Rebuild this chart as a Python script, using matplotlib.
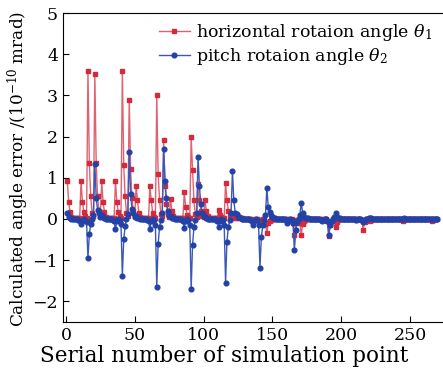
import matplotlib
matplotlib.use("Agg")
from matplotlib import pyplot as plt
import numpy as np

plt.rcParams['font.family'] = ['DejaVu Serif']
plt.rcParams['mathtext.fontset'] = 'dejavuserif'

# horizontal rotation angle theta1, 25 points per row (last row 20)
red_vals = [
    0.93, 0.40, 0.17, 0.05, 0.02, 0.02, 0.01, 0.01, 0.01, 0.02, 0.93, 0.40, 0.17, 0.06, 0.03, 3.60, 1.35, 0.55, 0.15, 0.08, 3.52, 1.35, 0.55, 0.18, 0.08,
    0.92, 0.40, 0.17, 0.05, 0.02, 0.02, 0.01, 0.01, 0.01, 0.02, 0.93, 0.40, 0.17, 0.06, 0.03, 3.60, 1.30, 0.55, 0.15, 0.08, 2.90, 1.20, 0.50, 0.18, 0.08,
    0.79, 0.45, 0.15, 0.05, 0.02, 0.02, 0.01, 0.01, 0.01, 0.02, 0.79, 0.45, 0.15, 0.05, 0.03, 3.00, 1.10, 0.47, 0.12, 0.06, 1.92, 0.80, 0.35, 0.12, 0.05,
    0.49, 0.20, 0.08, 0.03, 0.02, 0.01, 0.01, 0.01, 0.01, 0.02, 0.65, 0.30, 0.10, 0.04, 0.02, 1.98, 1.19, 0.45, 0.12, 0.05, 0.85, 0.45, 0.20, 0.08, 0.04,
    0.45, 0.20, 0.06, 0.02, 0.01, 0.01, 0.01, 0.01, 0.01, 0.02, 0.22, 0.10, 0.04, 0.02, 0.02, 0.88, 0.45, 0.20, 0.06, 0.03, 0.10, 0.05, 0.02, 0.01, 0.01,
    0.05, 0.02, 0.01, 0.00, 0.00, 0.00, 0.00, 0.00, 0.00, 0.00, -0.05, -0.02, 0.00, 0.00, -0.02, -0.05, -0.03, 0.00, -0.02, -0.12, -0.35, -0.10, -0.04, -0.02, 0.00,
    0.00, 0.00, 0.00, 0.00, 0.00, 0.00, 0.00, 0.00, 0.00, 0.00, -0.03, -0.01, 0.00, 0.00, -0.10, -0.38, -0.10, -0.03, 0.00, -0.10, -0.40, -0.12, -0.05, -0.02, 0.00,
    0.00, 0.00, 0.00, 0.00, 0.00, 0.00, 0.00, 0.00, 0.00, 0.00, -0.02, 0.00, 0.00, 0.00, -0.05, -0.42, -0.15, -0.05, 0.00, -0.05, -0.20, -0.08, -0.03, 0.00, 0.00,
    0.00, 0.00, 0.00, 0.00, 0.00, 0.00, 0.00, 0.00, 0.00, 0.00, -0.02, 0.00, 0.00, 0.00, -0.03, -0.27, -0.08, -0.02, 0.00, -0.02, -0.05, -0.02, 0.00, 0.00, 0.00,
    0.00, 0.00, 0.00, 0.00, 0.00, 0.00, 0.00, 0.00, 0.00, 0.00, 0.00, 0.00, 0.00, 0.00, 0.00, 0.00, 0.00, 0.00, 0.00, -0.05, -0.02, 0.00, 0.00, 0.00, 0.00,
    0.00, 0.00, 0.00, 0.00, 0.00, 0.00, 0.00, 0.00, 0.00, 0.00, 0.00, 0.00, 0.00, 0.00, 0.00, -0.05, -0.02, 0.00, 0.00, 0.00,
]

# pitch rotation angle theta2
blue_vals = [
    0.14, 0.05, 0.02, 0.00, -0.01, -0.01, -0.01, -0.01, -0.02, -0.05, -0.12, -0.04, 0.00, -0.02, -0.08, -0.96, -0.36, -0.13, 0.00, 0.10, 1.34, 0.50, 0.22, 0.15, 0.05,
    0.10, 0.04, 0.01, 0.00, -0.01, -0.01, -0.01, -0.01, -0.02, -0.06, -0.25, -0.06, 0.00, -0.03, -0.12, -1.38, -0.50, -0.18, 0.00, 0.12, 1.62, 0.60, 0.25, 0.15, 0.05,
    0.08, 0.03, 0.01, 0.00, -0.01, -0.01, -0.01, -0.01, -0.02, -0.06, -0.24, -0.06, 0.00, -0.03, -0.15, -1.65, -0.62, -0.20, -0.02, 0.15, 1.70, 0.93, 0.50, 0.20, 0.08,
    0.06, 0.02, 0.01, 0.00, -0.01, -0.01, -0.01, -0.01, -0.02, -0.06, -0.22, -0.06, 0.00, -0.03, -0.15, -1.71, -0.64, -0.20, -0.02, 0.15, 1.51, 0.80, 0.35, 0.15, 0.06,
    0.05, 0.02, 0.00, 0.00, -0.01, -0.01, -0.01, -0.01, -0.02, -0.05, -0.20, -0.05, 0.00, -0.03, -0.15, -1.55, -0.55, -0.20, -0.02, 0.15, 1.17, 0.45, 0.15, 0.12, 0.05,
    0.04, 0.01, 0.00, 0.00, -0.01, -0.01, -0.01, -0.01, -0.02, -0.05, -0.16, -0.04, 0.00, -0.02, -0.16, -1.19, -0.44, -0.16, -0.02, 0.10, 0.76, 0.29, 0.16, 0.10, 0.04,
    0.02, 0.01, 0.00, 0.00, -0.01, -0.01, -0.01, -0.01, -0.01, -0.03, -0.10, -0.03, 0.00, -0.02, -0.10, -0.76, -0.28, -0.08, -0.01, 0.10, 0.39, 0.15, 0.05, 0.03, 0.01,
    0.01, 0.00, 0.00, 0.00, 0.00, 0.00, 0.00, 0.00, -0.01, -0.02, -0.05, -0.02, 0.00, -0.01, -0.05, -0.40, -0.15, -0.05, 0.00, 0.05, 0.14, 0.05, 0.02, 0.01, 0.00,
    0.00, 0.00, 0.00, 0.00, 0.00, 0.00, 0.00, 0.00, 0.00, 0.00, -0.02, 0.00, 0.00, 0.00, -0.02, -0.08, -0.03, 0.00, 0.00, 0.01, 0.03, 0.01, 0.00, 0.00, 0.00,
    0.00, 0.00, 0.00, 0.00, 0.00, 0.00, 0.00, 0.00, 0.00, 0.00, -0.01, 0.00, 0.00, 0.00, 0.00, -0.01, 0.00, 0.00, 0.00, 0.00, 0.01, 0.00, 0.00, 0.00, 0.00,
    0.00, 0.00, 0.00, 0.00, 0.00, 0.00, 0.00, 0.00, 0.00, 0.00, 0.00, 0.00, 0.00, 0.00, 0.00, 0.00, 0.00, 0.00, 0.00, 0.00,
]

points = np.arange(1, len(red_vals) + 1)

x_ticks = [0, 50, 100, 150, 200, 250]
y_ticks = [-2, -1, 0, 1, 2, 3, 4, 5]

fig = plt.figure(figsize=(4.43, 3.75), dpi=100)
ax = fig.add_axes([0.142, 0.142, 0.858, 0.823])

ax.plot(points, red_vals, '-s', color='#e06270', lw=1.0, ms=3.2,
        mfc='#d42a3c', mec='#d42a3c', label=r'horizontal rotaion angle $\theta_1$')
ax.plot(points, blue_vals, '-o', color='#3a58b8', lw=1.0, ms=3.4,
        mfc='#2442a6', mec='#2442a6', label=r'pitch rotaion angle $\theta_2$')

ax.set_xlim(-2.2, 274)
ax.set_ylim(-2.5, 5)
ax.set_xticks(x_ticks)
ax.set_yticks(y_ticks)
ax.tick_params(direction='in', labelsize=12.5, length=4)
ax.spines['right'].set_visible(False)

ax.set_xlabel('Serial number of simulation point', fontsize=15.5, labelpad=0)
ax.xaxis.set_label_coords(0.424, -0.075)
ax.set_ylabel(r'Calculated angle error /(10$^{-10}$ mrad)', fontsize=12.2)
ax.yaxis.set_label_coords(-0.083, 0.495)

ax.legend(loc='upper left', bbox_to_anchor=(0.225, 1.005), frameon=False,
          fontsize=12.5, handlelength=1.8, handletextpad=0.35, labelspacing=0.15,
          borderaxespad=0.2)

fig.savefig('out.png', dpi=100)
